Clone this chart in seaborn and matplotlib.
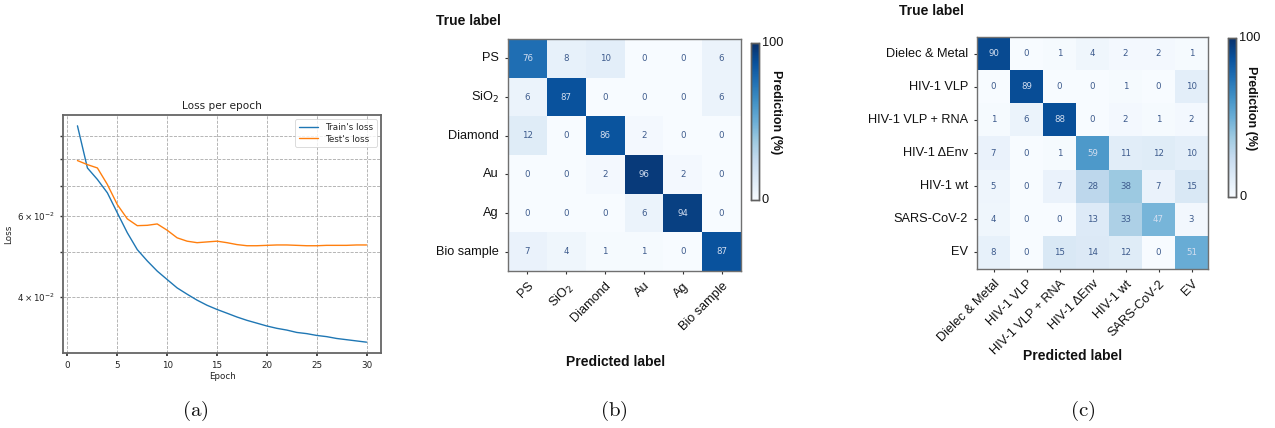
import numpy as np
import pandas as pd
import matplotlib
matplotlib.use("Agg")
import matplotlib.pyplot as plt
from matplotlib.ticker import LogLocator
import seaborn as sns

# ---- training curves ----
epochs = list(range(1, 31))
train_loss = [0.0946, 0.0765, 0.0722, 0.0675, 0.0610, 0.0552, 0.0507, 0.0479,
              0.0455, 0.0436, 0.0418, 0.0405, 0.0393, 0.0383, 0.0375, 0.0368,
              0.0361, 0.0355, 0.0350, 0.0345, 0.0341, 0.0338, 0.0334, 0.0332,
              0.0329, 0.0327, 0.0324, 0.0322, 0.0320, 0.0318]
test_loss = [0.0794, 0.0778, 0.0765, 0.0704, 0.0636, 0.0592, 0.0572, 0.0573,
             0.0577, 0.0559, 0.0538, 0.0529, 0.0525, 0.0527, 0.0529, 0.0525,
             0.0520, 0.0517, 0.0517, 0.0518, 0.0519, 0.0519, 0.0518, 0.0517,
             0.0517, 0.0518, 0.0518, 0.0518, 0.0519, 0.0519]

# ---- confusion matrix: particle materials ----
mat_labels = ["PS", r"SiO$_2$", "Diamond", "Au", "Ag", "Bio sample"]
mat_cm = [[76, 8, 10, 0, 0, 6],
          [6, 87, 0, 0, 0, 6],
          [12, 0, 86, 2, 0, 0],
          [0, 0, 2, 96, 2, 0],
          [0, 0, 0, 6, 94, 0],
          [7, 4, 1, 1, 0, 87]]

# ---- confusion matrix: biological particles ----
bio_labels = ["Dielec & Metal", "HIV-1 VLP", "HIV-1 VLP + RNA", "HIV-1 ΔEnv",
              "HIV-1 wt", "SARS-CoV-2", "EV"]
bio_cm = [[90, 0, 1, 4, 2, 2, 1],
          [0, 89, 0, 0, 1, 0, 10],
          [1, 6, 88, 0, 2, 1, 2],
          [7, 0, 1, 59, 11, 12, 10],
          [5, 0, 7, 28, 38, 7, 15],
          [4, 0, 0, 13, 33, 47, 3],
          [8, 0, 15, 14, 12, 0, 51]]

sns.set_theme(style="white")
plt.rcParams["font.family"] = ["DejaVu Sans"]
plt.rcParams["mathtext.fontset"] = "dejavusans"

W, H = 1275, 428
fig = plt.figure(figsize=(W / 100, H / 100), dpi=100)


def px_axes(x0, y0, x1, y1):
    return fig.add_axes([x0 / W, 1 - y1 / H, (x1 - x0) / W, (y1 - y0) / H])


# ---------------- (a) loss curves ----------------
ax = px_axes(63, 115, 381, 353)
loss_df = pd.DataFrame({"Epoch": epochs * 2,
                        "Loss": train_loss + test_loss,
                        "Series": ["Train's loss"] * 30 + ["Test's loss"] * 30})
sns.lineplot(data=loss_df, x="Epoch", y="Loss", hue="Series",
             palette=["#1f77b4", "#ff7f0e"], linewidth=1.0, ax=ax)
ax.set_yscale("log")
ax.yaxis.set_minor_locator(LogLocator(base=10, subs=np.arange(2, 10)))
ax.set_xticks([0, 5, 10, 15, 20, 25, 30])
ax.grid(True, which="both", color="#aaaaaa", linestyle="--", linewidth=0.6)
ax.set_axisbelow(True)
ax.tick_params(axis="both", which="both", labelsize=6.3, length=2.5,
               color="#333333", left=True, bottom=True, labelcolor="#222222")
ax.set_title("Loss per epoch", fontsize=7.6, color="#222222", pad=4)
ax.set_xlabel("Epoch", fontsize=6.3, color="#222222", labelpad=1)
ax.set_ylabel("Loss", fontsize=6.3, color="#222222", labelpad=3)
for s in ax.spines.values():
    s.set_color("#666666")
    s.set_linewidth(1.3)
leg = ax.legend(loc="upper right", fontsize=6.3, frameon=True, borderpad=0.4,
                handlelength=2.2, labelspacing=0.3)
leg.get_frame().set_edgecolor("#cccccc")
leg.get_frame().set_linewidth(0.6)
leg.set_title(None)


# ---------------- confusion matrices ----------------
def draw_cm(cm, labels, box, cbox, lab_true, lab_pred, cbar_label_xy):
    hax = px_axes(*box)
    cax = px_axes(*cbox)
    arr = np.array(cm)
    sns.heatmap(arr, cmap="Blues", vmin=0, vmax=100, annot=True, fmt="d",
                annot_kws={"fontsize": 6.2}, cbar_ax=cax, square=False,
                xticklabels=labels, yticklabels=labels, ax=hax,
                linewidths=0)
    thresh = (arr.max() + arr.min()) / 2
    for t, v in zip(hax.texts, arr.flatten()):
        t.set_color("#d3def0" if v > thresh else "#3c5a8c")
        t.set_family("DejaVu Sans")
    for s in hax.spines.values():
        s.set_visible(True)
        s.set_color("#707070")
        s.set_linewidth(1.0)
    hax.tick_params(axis="both", length=2.5, width=0.8, color="#333333",
                    left=True, bottom=True, pad=4)
    plt.setp(hax.get_yticklabels(), rotation=0, fontsize=9.2,
             family=["Liberation Sans", "DejaVu Sans"], color="#111111")
    plt.setp(hax.get_xticklabels(), rotation=45, ha="right",
             rotation_mode="anchor", fontsize=9.2,
             family=["Liberation Sans", "DejaVu Sans"], color="#111111")
    hax.set_xlabel("")
    hax.set_ylabel("")
    cax.set_yticks([])
    for s in cax.spines.values():
        s.set_visible(True)
        s.set_color("#606060")
        s.set_linewidth(1.0)
    x_right = cbox[2]
    fig.text((x_right + 3) / W, 1 - cbox[1] / H, "100", fontsize=9.2,
             family="Liberation Sans", ha="left", va="center", color="#111111")
    fig.text((x_right + 3) / W, 1 - cbox[3] / H, "0", fontsize=9.2,
             family="Liberation Sans", ha="left", va="center", color="#111111")
    fig.text(cbar_label_xy[0] / W, 1 - cbar_label_xy[1] / H, "Prediction (%)",
             rotation=-90, fontsize=9, fontweight="bold",
             family="Liberation Sans", ha="center", va="center", color="#111111")
    fig.text(lab_true[0] / W, 1 - lab_true[1] / H, "True label", fontsize=10,
             fontweight="bold", family="Liberation Sans", ha="left",
             va="center", color="#111111")
    fig.text(lab_pred[0] / W, 1 - lab_pred[1] / H, "Predicted label",
             fontsize=10, fontweight="bold", family="Liberation Sans",
             ha="center", va="center", color="#111111")
    return hax


draw_cm(mat_cm, mat_labels, (508, 39, 741, 271), (751, 43, 759, 200),
        (436, 21), (616, 362), (776, 112))
draw_cm(bio_cm, bio_labels, (977, 37, 1208, 269), (1228, 38, 1236, 197),
        (899, 11), (1073, 356), (1251, 108))

# ---------------- panel captions ----------------
plt.rcParams["mathtext.fontset"] = "cm"
for x, lab in [(195, "a"), (614, "b"), (1083, "c")]:
    fig.text(x / W, 1 - 411 / H, r"$\mathrm{(%s)}$" % lab, fontsize=15,
             ha="center", va="center", color="#111111")

fig.savefig("out.png", dpi=100)
